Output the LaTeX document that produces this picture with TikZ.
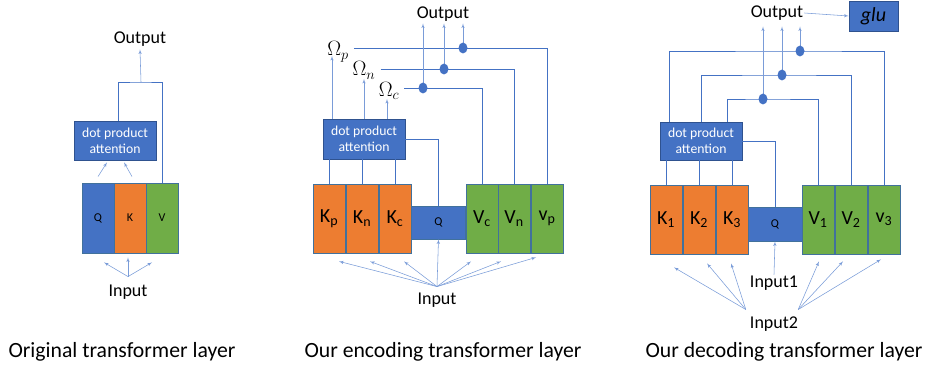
\documentclass[tikz,border=0pt]{standalone}
\usepackage{fontspec}
\setmainfont{Carlito}
\usetikzlibrary{arrows, shapes.geometric}
\usepackage{xcolor}
\definecolor{qblue}{HTML}{4472C4}
\definecolor{korange}{HTML}{ED7D31}
\definecolor{vgreen}{HTML}{70AD47}
\definecolor{rim}{HTML}{41719C}
\definecolor{boxrim}{HTML}{2F528F}
\definecolor{thinblue}{HTML}{7A9CD8}

\begin{document}
\begin{tikzpicture}[x=1pt,y=-1pt]
\tikzset{font=\fontsize{18}{20}\selectfont,
	inner sep=1pt}
\tikzset{block/.style = {draw=rim, line width=0.8pt, minimum width=32, minimum height=69, inner sep=0, font=\fontsize{20}{22}\selectfont}}
\tikzset{qblock/.style = {block, fill=qblue, minimum width=54, minimum height=33, font=\fontsize{12}{14}\selectfont}}
\tikzset{att/.style = {draw=boxrim, line width=0.8pt, fill=qblue, text=white, minimum width=82, minimum height=39, align=center, inner sep=0, font=\fontsize{13.7}{16}\selectfont}}
\tikzset{dot/.style = {shape=ellipse, fill=qblue, minimum width=9, minimum height=11, inner sep=0}}
\tikzset{omega/.style = {anchor=base, font=\fontsize{21.5}{24}\selectfont}}
\tikzset{caption/.style = {font=\fontsize{21.7}{24}\selectfont}}
\tikzset{edge/.style = {-, draw=qblue, line width=0.8pt}}
\tikzset{arrow/.style = {->, > = latex', draw=thinblue, line width=0.55pt}}
\useasboundingbox (0,0) rectangle (930,369);

% original layer
\node[block, fill=qblue, minimum height=70, font=\fontsize{12}{14}\selectfont] (q1) at (98,218) {Q};
\node[block, fill=korange, minimum height=70, font=\fontsize{12}{14}\selectfont] (k1) at (130,218) {K};
\node[block, fill=vgreen, minimum height=70, font=\fontsize{12}{14}\selectfont] (v1) at (162,218) {V};
\node[att, minimum height=39] (att1) at (115,140.5) {dot product\\attention};
\node (out1) at (140,39) {Output};
\node (in1) at (128,292) {Input};
\node[caption] (cap1) at (122,352) {Original transformer layer};
\coordinate (top1) at (141,82);

%edges
\draw[edge] ([xshift=3]att1.north) |- (top1) -| (v1.north);
\draw[arrow] (top1) -- ([yshift=-2]out1.south);
\draw[arrow] ([yshift=6]q1.north) -- ([xshift=-8,yshift=-2]att1.south);
\draw[arrow] ([xshift=2,yshift=6]k1.north) -- ([xshift=9,yshift=-2]att1.south);
\draw[arrow] ([yshift=7]in1.north) -- ([xshift=6,yshift=-9]q1.south);
\draw[arrow] ([yshift=7]in1.north) -- ([xshift=-2,yshift=-4]k1.south);
\draw[arrow] ([yshift=7]in1.north) -- ([xshift=-10,yshift=-9]v1.south);

% encoding layer
\node[block, fill=korange] (kp) at (329,218.5) {K\textsubscript{p}};
\node[block, fill=korange] (kn) at (362,218.5) {K\textsubscript{n}};
\node[block, fill=korange] (kc) at (395,218.5) {K\textsubscript{c}};
\node[qblock] (q2) at (438.5,222.5) {Q};
\node[block, fill=vgreen] (vc) at (482,218.5) {V\textsubscript{c}};
\node[block, fill=vgreen] (vn) at (514,218.5) {V\textsubscript{n}};
\node[block, fill=vgreen] (vp) at (547,218.5) {v\textsubscript{p}};
\node[att, minimum height=40] (att2) at (364,139) {dot product\\attention};
\node (out2) at (443,14) {Output};
\node[omega] (op) at (338,56) {$\Omega_p$};
\node[omega] (on) at (364,76) {$\Omega_n$};
\node[omega] (oc) at (389,96) {$\Omega_c$};
\node (in2) at (437,300) {Input};
\node[caption] (cap2) at (443,352) {Our encoding transformer layer};
\coordinate (dp) at (463,48);
\coordinate (dn) at (444,69);
\coordinate (dc) at (423,88);
\coordinate (ap) at (332,119);
\coordinate (an) at (364,119);
\coordinate (ac) at (387,119);

%edges
\draw[edge] (kp.north) -- (kp.north |- att2.south);
\draw[edge] (kn.north) -- (kn.north |- att2.south);
\draw[edge] (kc.north) -- (kc.north |- att2.south);
\draw[edge] (att2.east) -| (q2.north);
\draw[edge] ([xshift=4]op.east |- dp) -| (vp.north);
\draw[edge] ([xshift=4]on.east |- dn) -| (vn.north);
\draw[edge] ([xshift=4]oc.east |- dc) -| (vc.north);
\draw[arrow] (dp) -- ([yshift=-1]dp |- out2.south);
\draw[arrow] (dn) -- ([yshift=-1]dn |- out2.south);
\draw[arrow] (dc) -- ([yshift=-1]dc |- out2.south);
\draw[arrow] (ap) -- (ap |- op.base);
\draw[arrow] (an) -- ([yshift=-3]an |- on.base);
\draw[arrow] (ac) -- ([yshift=-3]ac |- oc.base);
\node[dot] at (dp) {};
\node[dot] at (dn) {};
\node[dot] at (dc) {};
\draw[arrow] ([yshift=5]in2.north) -- ([xshift=10,yshift=-8]kp.south);
\draw[arrow] ([yshift=5]in2.north) -- ([xshift=8,yshift=-8]kn.south);
\draw[arrow] ([yshift=5]in2.north) -- ([xshift=9,yshift=-8]kc.south);
\draw[arrow] ([yshift=5]in2.north) -- (q2.south);
\draw[arrow] ([yshift=5]in2.north) -- ([xshift=-11,yshift=-8]vc.south);
\draw[arrow] ([yshift=5]in2.north) -- ([xshift=-13,yshift=-8]vn.south);
\draw[arrow] ([yshift=5]in2.north) -- ([xshift=-11,yshift=-4]vp.south);

% decoding layer
\node[block, fill=korange] (k31) at (666,219.5) {K\textsubscript{1}};
\node[block, fill=korange] (k32) at (699,219.5) {K\textsubscript{2}};
\node[block, fill=korange] (k33) at (732,219.5) {K\textsubscript{3}};
\node[qblock, minimum height=34] (q3) at (775,224) {Q};
\node[block, fill=vgreen] (v31) at (818,219.5) {V\textsubscript{1}};
\node[block, fill=vgreen] (v32) at (851,219.5) {V\textsubscript{2}};
\node[block, fill=vgreen] (v33) at (884,219.5) {v\textsubscript{3}};
\node[att, minimum height=38] (att3) at (701,141) {dot product\\attention};
\node (out3) at (777,13) {Output};
\node[draw=boxrim, line width=0.8pt, fill=qblue, minimum width=49, minimum height=30, font=\fontsize{20}{22}\selectfont] (glu) at (873.5,16) {\itshape glu};
\node (in31) at (774,283) {Input1};
\node (in32) at (774,324) {Input2};
\node[caption] (cap3) at (784,352) {Our decoding transformer layer};
\coordinate (d1) at (800,51);
\coordinate (d2) at (782,75);
\coordinate (d3) at (763,99);

%edges
\draw[edge] (k31.north) -- (k31.north |- att3.south);
\draw[edge] (k32.north) -- (k32.north |- att3.south);
\draw[edge] (k33.north) -- (k33.north |- att3.south);
\draw[edge] (att3.east) -| (q3.north);
\draw[edge] ([xshift=-32]att3.north) |- (d1) -| (v33.north);
\draw[edge] (att3.north) |- (d2) -| (v32.north);
\draw[edge] ([xshift=26]att3.north) |- (d3) -| (v31.north);
\draw[arrow] (d1) -- ([yshift=-5]d1 |- out3.south);
\draw[arrow] (d2) -- ([yshift=-5]d2 |- out3.south);
\draw[arrow] (d3) -- ([yshift=-5]d3 |- out3.south);
\node[dot] at (d1) {};
\node[dot] at (d2) {};
\node[dot] at (d3) {};
\draw[arrow] (out3.east) -- (glu.west);
\draw[arrow] (in31.north) -- (q3.south);
\draw[arrow] ([xshift=-3,yshift=6]in32.north west) -- ([xshift=8,yshift=-13]k31.south);
\draw[arrow] ([xshift=-3,yshift=6]in32.north west) -- ([xshift=8,yshift=-9]k32.south);
\draw[arrow] ([xshift=-3,yshift=6]in32.north west) -- ([xshift=-1,yshift=-9]k33.south);
\draw[arrow] ([xshift=-1,yshift=6]in32.north east) -- ([xshift=1,yshift=-7]v31.south);
\draw[arrow] ([xshift=-1,yshift=6]in32.north east) -- ([xshift=-8,yshift=-7]v32.south);
\draw[arrow] ([xshift=-1,yshift=6]in32.north east) -- ([xshift=-3,yshift=-5]v33.south);
\end{tikzpicture}
\end{document}
